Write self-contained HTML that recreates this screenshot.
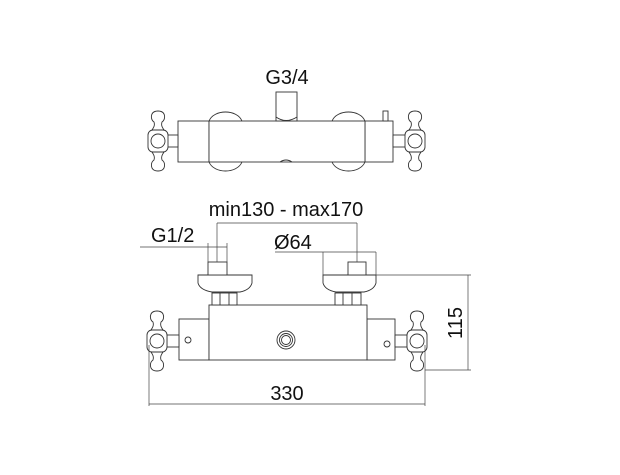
<!DOCTYPE html>
<html><head><style>html,body{margin:0;padding:0;background:#fff}svg{display:block}text{font-family:"Liberation Sans",sans-serif;fill:#111}</style></head>
<body>
<svg width="620" height="475" viewBox="0 0 620 475" xmlns="http://www.w3.org/2000/svg">
<defs>
<g id="h" fill="#fff" stroke="#333" stroke-width="0.9">
<path d="M-6,-11 C-4,-14 -3,-16 -4,-19 C-7,-21 -7,-25 -6,-27 C-4,-31 4,-31 6,-27 C7,-25 7,-21 4,-19 C3,-16 4,-14 6,-11 Z"/>
<path d="M-6,11 C-4,14 -3,16 -4,19 C-7,21 -7,25 -6,27 C-4,31 4,31 6,27 C7,25 7,21 4,19 C3,16 4,14 6,11 Z"/>
<rect x="-10" y="-11" width="20" height="22" rx="5"/>
<circle r="7"/>
</g>
</defs>
<g fill="none" stroke="#333" stroke-width="0.9">
<!-- TOP VIEW -->
<path d="M209,121 C214,109 237,109 242,121 M209,162 C214,174 237,174 242,162"/>
<path d="M332,121 C337,109 360,109 365,121 M332,162 C337,174 360,174 365,162"/>
<rect x="178" y="121" width="31" height="41" fill="#fff"/>
<rect x="365" y="121" width="28" height="41" fill="#fff"/>
<rect x="209" y="121" width="156" height="41" fill="#fff"/>
<rect x="276" y="92" width="21" height="29" fill="#fff"/>
<path d="M276,117 Q286,124 297,117" />
<path d="M280,162 Q286,158 292,162"/>
<rect x="383" y="111" width="5" height="10" fill="#fff"/>
<rect x="167" y="135" width="11" height="12" fill="#fff"/>
<rect x="393" y="135" width="13" height="12" fill="#fff"/>
<use href="#h" x="158" y="141"/>
<use href="#h" x="415" y="141"/>
<!-- BOTTOM VIEW -->
<rect x="179" y="319" width="30" height="41" fill="#fff"/>
<rect x="367" y="319" width="28" height="41" fill="#fff"/>
<rect x="209" y="305" width="158" height="55" fill="#fff"/>
<circle cx="286" cy="340" r="9"/><circle cx="286" cy="340" r="6.5"/><circle cx="286" cy="340" r="4.5"/>
<circle cx="188" cy="340" r="3"/><circle cx="387" cy="344" r="3"/>
<rect x="212" y="293" width="25" height="12" fill="#fff"/><line x1="220" y1="293" x2="220" y2="305"/><line x1="229" y1="293" x2="229" y2="305"/>
<rect x="335" y="293" width="26" height="12" fill="#fff"/><line x1="343" y1="293" x2="343" y2="305"/><line x1="352" y1="293" x2="352" y2="305"/>
<path d="M198,275 L252,275 L252,283 Q250,290 240,292 L212,292 Q200,290 198,283 Z" fill="#fff"/>
<path d="M323,275 L376,275 L376,283 Q374,290 364,292 L336,292 Q325,290 323,283 Z" fill="#fff"/>
<rect x="208" y="262" width="19" height="13" fill="#fff"/>
<rect x="348" y="262" width="18" height="13" fill="#fff"/>
<rect x="167" y="335" width="12" height="12" fill="#fff"/>
<rect x="395" y="335" width="12" height="12" fill="#fff"/>
<use href="#h" x="157" y="341"/>
<use href="#h" x="417" y="341"/>
</g>
<g stroke="#444" stroke-width="0.7" fill="none">
<line x1="276" y1="92" x2="297" y2="92"/>
<line x1="217" y1="223" x2="357" y2="223"/><line x1="217" y1="223" x2="217" y2="262"/><line x1="357" y1="223" x2="357" y2="262"/>
<line x1="140" y1="247" x2="227" y2="247"/><line x1="208" y1="243" x2="208" y2="262"/><line x1="227" y1="243" x2="227" y2="262"/>
<line x1="275" y1="252" x2="376" y2="252"/><line x1="323" y1="252" x2="323" y2="275"/><line x1="376" y1="252" x2="376" y2="275"/>
<line x1="376" y1="275" x2="471" y2="275"/><line x1="425" y1="370" x2="471" y2="370"/><line x1="468" y1="275" x2="468" y2="370"/>
<line x1="149" y1="404" x2="425" y2="404"/><line x1="149" y1="345" x2="149" y2="406"/><line x1="425" y1="345" x2="425" y2="406"/>
</g>
<text x="287" y="84" font-size="20" text-anchor="middle">G3/4</text>
<text x="286" y="216" font-size="20" text-anchor="middle">min130 - max170</text>
<text x="151" y="242" font-size="20">G1/2</text>
<text x="274" y="249" font-size="20">Ø64</text>
<text x="287" y="400" font-size="20" text-anchor="middle">330</text>
<text transform="translate(462,323) rotate(-90)" font-size="20" text-anchor="middle">115</text>
</svg>
</body></html>
